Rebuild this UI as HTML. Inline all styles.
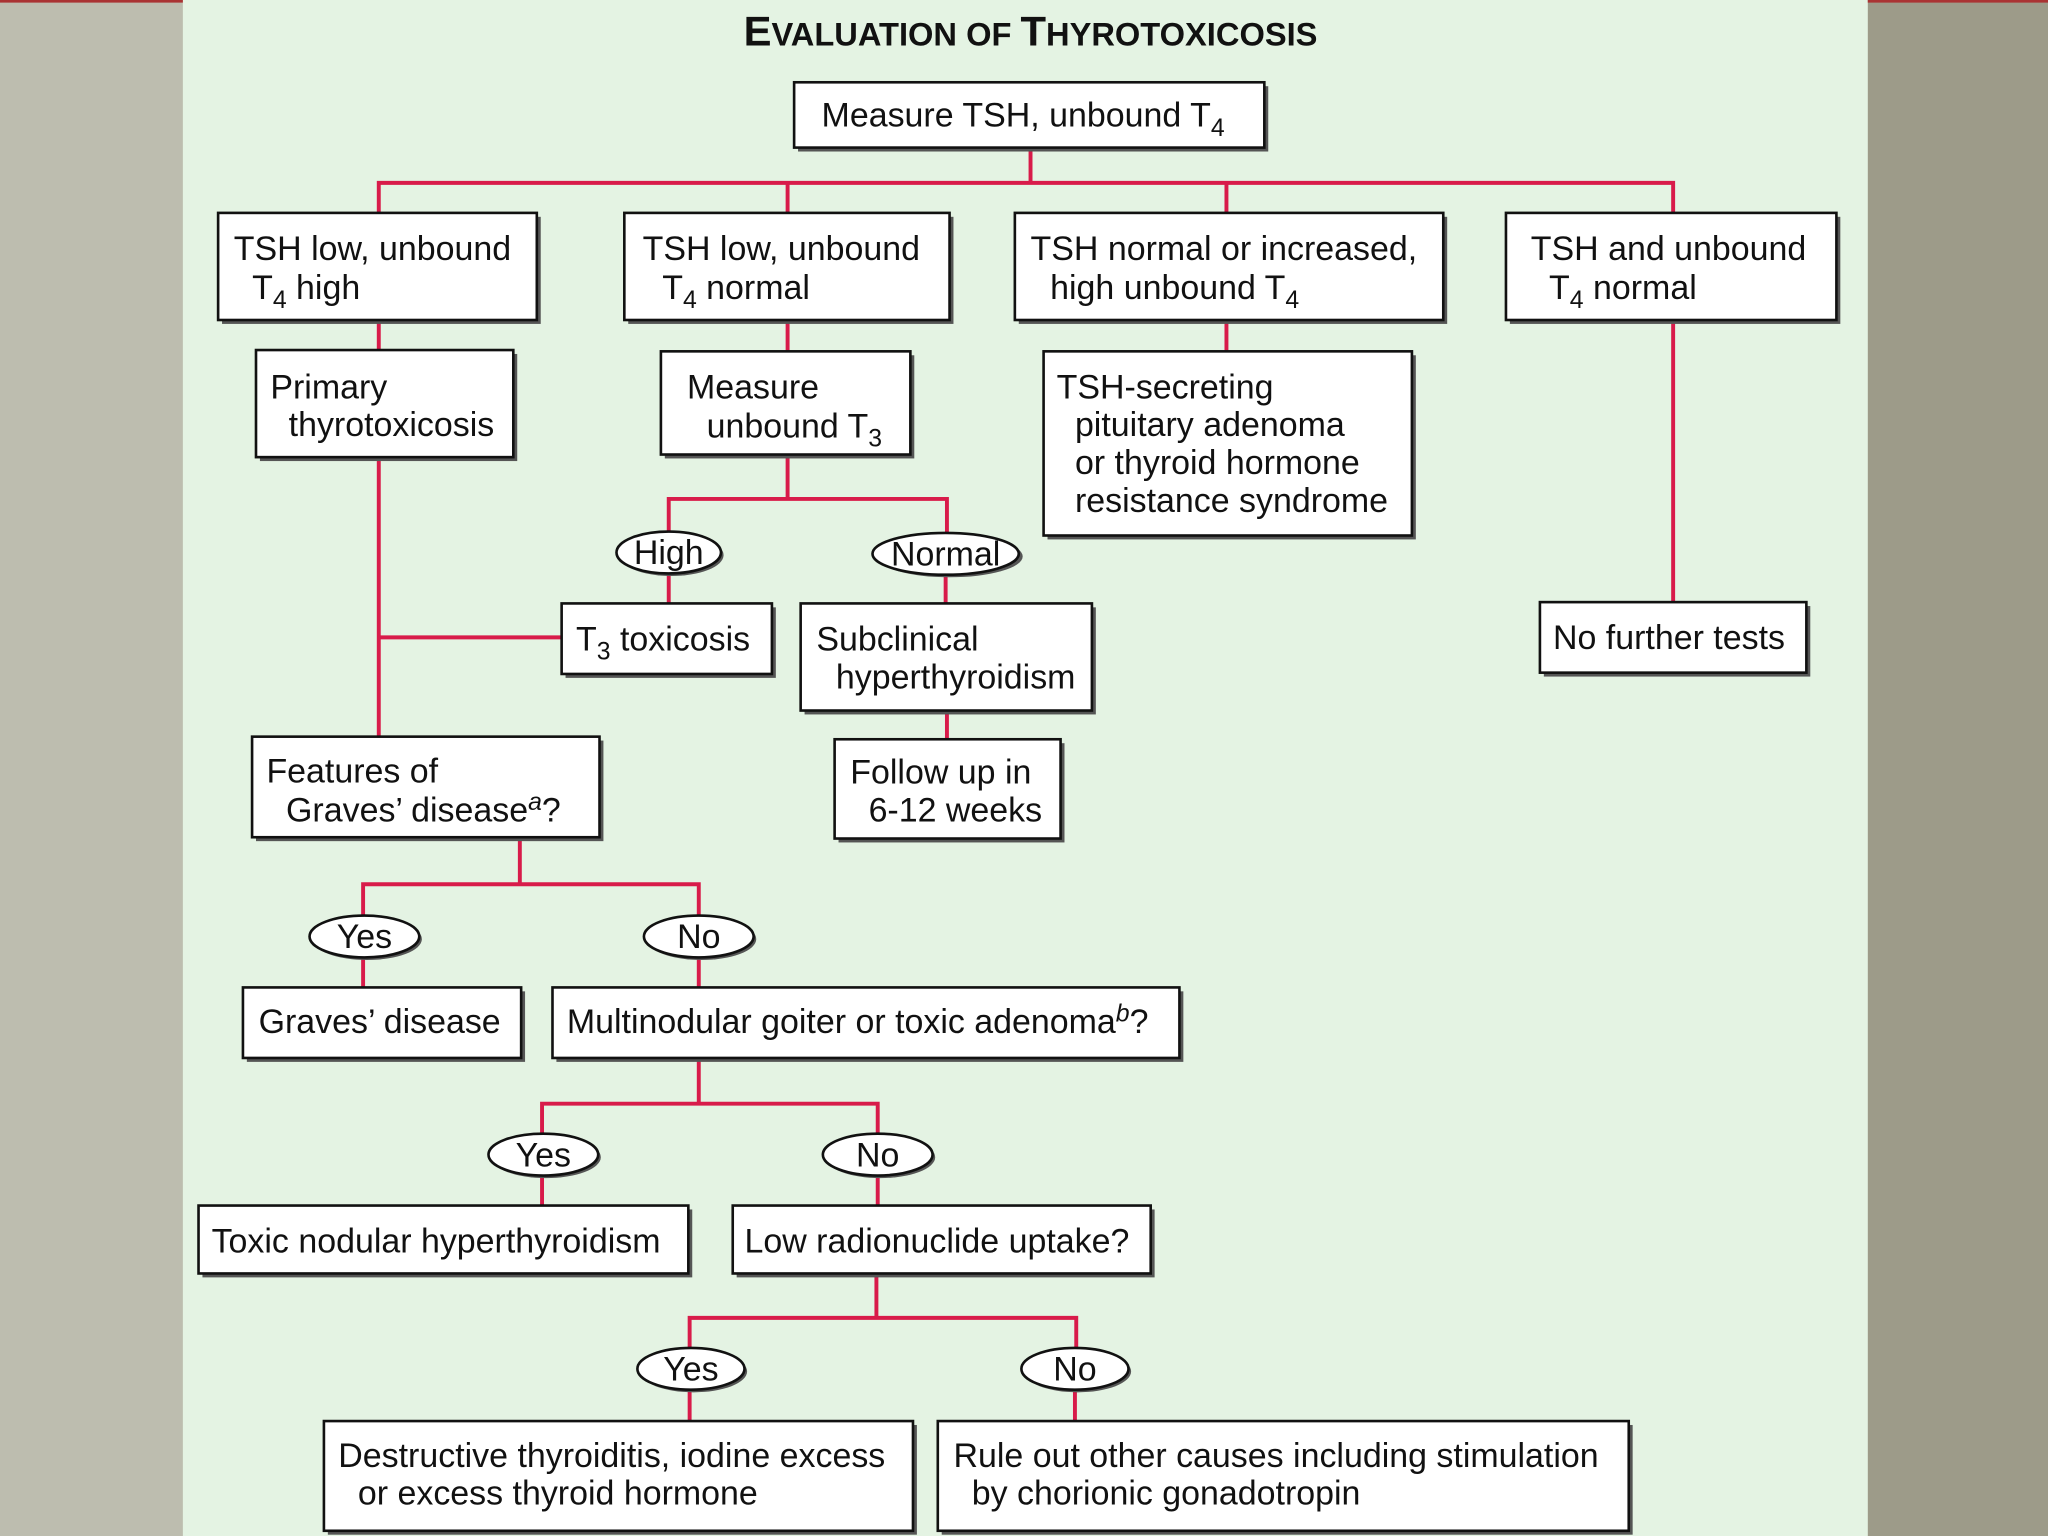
<!DOCTYPE html>
<html><head><meta charset="utf-8"><style>
html,body{margin:0;padding:0;}
body{width:2048px;height:1536px;overflow:hidden;}
svg{display:block;}
text{font-family:"Liberation Sans",Arial,sans-serif;font-size:26px;fill:#111;}
.sub{font-size:19px;}
</style></head><body>
<svg width="2048" height="1536" viewBox="0 0 1568 1176" xmlns="http://www.w3.org/2000/svg">
<rect x="0" y="0" width="1568" height="1176" fill="#bdbdaf"/>
<rect x="1430" y="0" width="138" height="1176" fill="#9d9b89"/>
<rect x="140" y="0" width="1290" height="1176" fill="#e4f3e3"/>
<rect x="0" y="0" width="140" height="2" fill="#a33"/>
<rect x="1430" y="0" width="138" height="2" fill="#a33"/>

<text x="789" y="35" text-anchor="middle" font-weight="bold" style="font-size:32px"><tspan>E</tspan><tspan style="font-size:25px">VALUATION OF </tspan><tspan>T</tspan><tspan style="font-size:25px">HYROTOXICOSIS</tspan></text>

<g stroke="#d81b4a" stroke-width="3" fill="none">
<path d="M789 113V140M290 163V140H1281V163M603 140V163M939 140V163"/>
<path d="M290 245V268M603 245V269M939 245V269M1281 245V461"/>
<path d="M603 348V382M512 407V382H725V408"/>
<path d="M512 439V462M724 440V462M725 544V566"/>
<path d="M290 350V564M290 488H430"/>
<path d="M398 641V677M278 701V677H535V701M278 733V756M535 733V756"/>
<path d="M535 810V845M415 868V845H672V868M415 900V923M672 900V923"/>
<path d="M671 975V1009M528 1032V1009H824V1032M528 1064V1088M823 1064V1088"/>
</g>

<g id="boxes">
<g fill="#555">
<rect x="611" y="66" width="360" height="50"/>
<rect x="170" y="166" width="244" height="82"/>
<rect x="481" y="166" width="249" height="82"/>
<rect x="780" y="166" width="328" height="82"/>
<rect x="1156" y="166" width="253" height="82"/>
<rect x="199" y="271" width="197" height="82"/>
<rect x="509" y="272" width="191" height="79"/>
<rect x="802" y="272" width="282" height="141"/>
<rect x="1182" y="464" width="204" height="54"/>
<rect x="433" y="465" width="161" height="54"/>
<rect x="616" y="465" width="223" height="82"/>
<rect x="642" y="569" width="173" height="76"/>
<rect x="196" y="567" width="266" height="77"/>
<rect x="189" y="759" width="213" height="54"/>
<rect x="426" y="759" width="480" height="54"/>
<rect x="155" y="926" width="375" height="52"/>
<rect x="564" y="926" width="320" height="52"/>
<rect x="251" y="1091" width="451" height="84"/>
<rect x="721" y="1091" width="529" height="84"/>
<ellipse cx="514" cy="425" rx="40" ry="16"/>
<ellipse cx="727" cy="426" rx="56" ry="16"/>
<ellipse cx="281" cy="719" rx="42" ry="16"/>
<ellipse cx="537" cy="719" rx="42" ry="16"/>
<ellipse cx="418" cy="886" rx="42" ry="16"/>
<ellipse cx="674" cy="886" rx="42" ry="16"/>
<ellipse cx="531" cy="1050" rx="41" ry="16"/>
<ellipse cx="825" cy="1050" rx="41" ry="16"/>
</g>
<g fill="#fff" stroke="#111" stroke-width="2">
<rect x="608" y="63" width="360" height="50"/>
<rect x="167" y="163" width="244" height="82"/>
<rect x="478" y="163" width="249" height="82"/>
<rect x="777" y="163" width="328" height="82"/>
<rect x="1153" y="163" width="253" height="82"/>
<rect x="196" y="268" width="197" height="82"/>
<rect x="506" y="269" width="191" height="79"/>
<rect x="799" y="269" width="282" height="141"/>
<rect x="1179" y="461" width="204" height="54"/>
<rect x="430" y="462" width="161" height="54"/>
<rect x="613" y="462" width="223" height="82"/>
<rect x="639" y="566" width="173" height="76"/>
<rect x="193" y="564" width="266" height="77"/>
<rect x="186" y="756" width="213" height="54"/>
<rect x="423" y="756" width="480" height="54"/>
<rect x="152" y="923" width="375" height="52"/>
<rect x="561" y="923" width="320" height="52"/>
<rect x="248" y="1088" width="451" height="84"/>
<rect x="718" y="1088" width="529" height="84"/>
<ellipse cx="512" cy="423" rx="40" ry="16"/>
<ellipse cx="724" cy="424" rx="56" ry="16"/>
<ellipse cx="279" cy="717" rx="42" ry="16"/>
<ellipse cx="535" cy="717" rx="42" ry="16"/>
<ellipse cx="416" cy="884" rx="42" ry="16"/>
<ellipse cx="672" cy="884" rx="42" ry="16"/>
<ellipse cx="529" cy="1048" rx="41" ry="16"/>
<ellipse cx="823" cy="1048" rx="41" ry="16"/>
</g>
</g>

<text x="629" y="97">Measure TSH, unbound T<tspan class="sub" dy="7">4</tspan></text>
<text x="179" y="199">TSH low, unbound</text>
<text x="193" y="229">T<tspan class="sub" dy="7">4</tspan><tspan dy="-7"> high</tspan></text>
<text x="492" y="199">TSH low, unbound</text>
<text x="507" y="229">T<tspan class="sub" dy="7">4</tspan><tspan dy="-7"> normal</tspan></text>
<text x="789" y="199">TSH normal or increased,</text>
<text x="804" y="229">high unbound T<tspan class="sub" dy="7">4</tspan></text>
<text x="1172" y="199">TSH and unbound</text>
<text x="1186" y="229">T<tspan class="sub" dy="7">4</tspan><tspan dy="-7"> normal</tspan></text>
<text x="207" y="305">Primary</text>
<text x="221" y="334">thyrotoxicosis</text>
<text x="526" y="305">Measure</text>
<text x="541" y="335">unbound T<tspan class="sub" dy="7">3</tspan></text>
<text x="809" y="305">TSH-secreting</text>
<text x="823" y="334">pituitary adenoma</text>
<text x="823" y="363">or thyroid hormone</text>
<text x="823" y="392">resistance syndrome</text>
<text x="512" y="432" text-anchor="middle">High</text>
<text x="724" y="433" text-anchor="middle">Normal</text>
<text x="1189" y="497">No further tests</text>
<text x="441" y="498">T<tspan class="sub" dy="7">3</tspan><tspan dy="-7"> toxicosis</tspan></text>
<text x="625" y="498">Subclinical</text>
<text x="640" y="527">hyperthyroidism</text>
<text x="651" y="600">Follow up in</text>
<text x="665" y="629">6-12 weeks</text>
<text x="204" y="599">Features of</text>
<text x="219" y="629">Graves’ disease<tspan class="sub" dy="-9" font-style="italic">a</tspan><tspan dy="9">?</tspan></text>
<text x="279" y="726" text-anchor="middle">Yes</text>
<text x="535" y="726" text-anchor="middle">No</text>
<text x="198" y="791">Graves’ disease</text>
<text x="434" y="791">Multinodular goiter or toxic adenoma<tspan class="sub" dy="-9" font-style="italic">b</tspan><tspan dy="9">?</tspan></text>
<text x="416" y="893" text-anchor="middle">Yes</text>
<text x="672" y="893" text-anchor="middle">No</text>
<text x="162" y="959">Toxic nodular hyperthyroidism</text>
<text x="570" y="959">Low radionuclide uptake?</text>
<text x="529" y="1057" text-anchor="middle">Yes</text>
<text x="823" y="1057" text-anchor="middle">No</text>
<text x="259" y="1123">Destructive thyroiditis, iodine excess</text>
<text x="274" y="1152">or excess thyroid hormone</text>
<text x="730" y="1123">Rule out other causes including stimulation</text>
<text x="744" y="1152">by chorionic gonadotropin</text>
</svg>
</body></html>
